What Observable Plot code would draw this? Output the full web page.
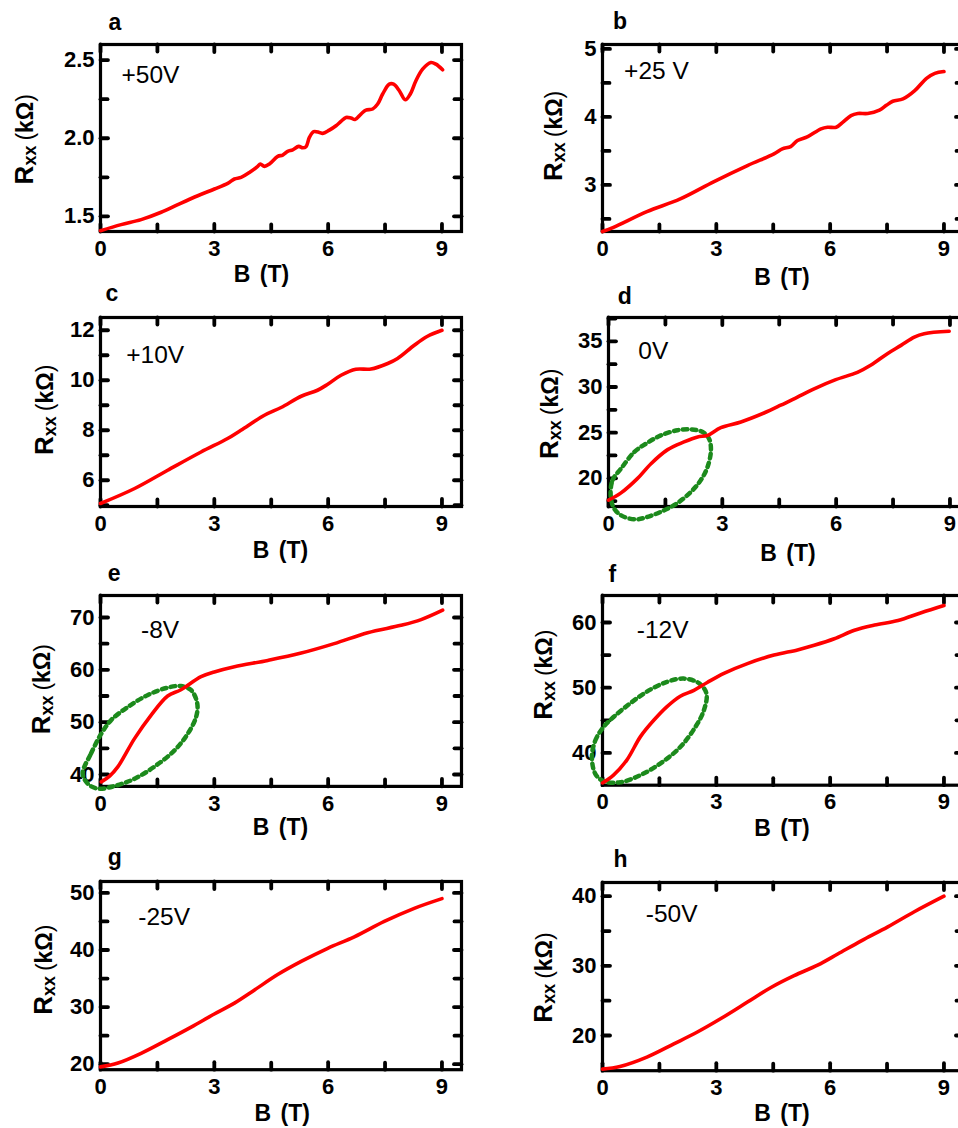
<!DOCTYPE html>
<html><head><meta charset="utf-8">
<script src="https://cdn.jsdelivr.net/npm/d3@7"></script>
<script src="https://cdn.jsdelivr.net/npm/@observablehq/plot@0.6"></script>
<style>
html,body{margin:0;padding:0;background:#fff;overflow:hidden;}
#fig{position:relative;width:958px;height:1128px;overflow:hidden;background:#fff;}
#fig svg{position:absolute;overflow:visible;}
</style></head><body><div id="fig"></div>
<script>
const FONT = "'Liberation Sans', Arial, Helvetica, sans-serif";

// ---------- data ----------
const panelLetters = ["a","b","c","d","e","f","g","h"];
const gateLabels = ["+50V","+25 V","+10V","0V","-8V","-12V","-25V","-50V"];
const xTicks = [0, 3, 6, 9];
const xMinor = [1.5, 4.5, 7.5];

const aB = [0,0.544,1.071,1.598,2.037,2.564,3.003,3.354,3.529,3.705,3.925,4.144,4.214,4.32,4.451,4.671,4.803,4.934,5.066,5.224,5.329,5.417,5.505,5.619,5.768,5.856,6.032,6.207,6.339,6.471,6.602,6.708,6.866,6.997,7.173,7.305,7.437,7.612,7.726,7.876,8.033,8.165,8.314,8.49,8.709,8.841,9.017];
const aR = [1.408,1.447,1.479,1.526,1.575,1.632,1.675,1.711,1.739,1.749,1.781,1.82,1.835,1.82,1.835,1.884,1.892,1.916,1.926,1.948,1.939,1.946,2.005,2.042,2.037,2.031,2.052,2.08,2.108,2.133,2.129,2.12,2.155,2.18,2.187,2.219,2.283,2.346,2.346,2.304,2.246,2.283,2.368,2.442,2.485,2.474,2.438];
const aYTicks = [1.5, 2.0, 2.5], aYMinor = [1.75, 2.25];

const bB = [0,0.29,1.17,2.05,2.94,3.82,4.52,4.74,4.96,5.14,5.41,5.76,5.93,6.16,6.33,6.55,6.73,6.99,7.3,7.48,7.65,7.92,8.23,8.54,8.76,9.0];
const bR = [2.314,2.377,2.608,2.794,3.049,3.284,3.456,3.53,3.564,3.652,3.71,3.824,3.848,3.848,3.92,4.02,4.05,4.05,4.1,4.17,4.23,4.265,4.387,4.568,4.64,4.667];
const bYTicks = [3, 4, 5], bYMinor = [2.5, 3.5, 4.5];

const cB = [0,0.9,1.77,2.65,3.35,3.7,4.32,4.76,5.29,5.72,5.99,6.34,6.73,7.13,7.57,7.83,8.27,8.62,9.0];
const cR = [5.07,5.67,6.4,7.13,7.67,8.0,8.6,8.91,9.36,9.6,9.84,10.2,10.44,10.45,10.67,10.87,11.4,11.76,12.0];
const cYTicks = [6, 8, 10, 12], cYMinor = [5, 7, 9, 11];

const dB = [0,0.33,0.76,1.12,1.56,1.99,2.35,2.61,2.96,3.49,4.1,4.54,4.98,5.42,5.99,6.56,6.92,7.35,7.71,8.06,8.32,8.98];
const dR = [17.6,18.4,19.96,21.6,23.14,23.98,24.53,24.7,25.55,26.17,27.15,28.0,28.9,29.8,30.8,31.6,32.4,33.65,34.56,35.47,35.84,36.1];
const dYTicks = [20, 25, 30, 35], dYMinor = [17.5, 22.5, 27.5, 32.5, 37.5];
const dEllB = [0.06,0.105,0.33,0.68,1.03,1.38,1.82,2.17,2.48,2.65,2.7,2.61,2.43,2.17,1.82,1.47,1.03,0.68,0.33,0.15];
const dEllR = [17.96,19.78,21.06,22.88,23.9,24.7,25.26,25.36,25.07,24.34,23.07,21.24,19.78,18.5,17.3,16.5,15.77,15.5,15.95,16.68];

const eB = [0.02,0.24,0.46,0.9,1.33,1.77,2.12,2.65,3.0,3.53,4.41,5.29,6.16,7.04,7.92,8.45,9.02];
const eR = [38.6,39.7,41.5,46.9,51.3,55.0,56.2,58.7,59.6,60.6,61.8,63.2,65.0,67.1,68.5,69.6,71.4];
const eYTicks = [40, 50, 60, 70], eYMinor = [45, 55, 65];
const eEllB = [-0.47,-0.25,0.02,0.28,0.72,1.25,1.77,2.12,2.39,2.55,2.52,2.3,1.95,1.42,0.9,0.37,-0.07,-0.33];
const eEllR = [40.2,44.0,47.8,50.4,52.9,55.2,56.6,56.9,56.1,53.6,51.0,47.8,44.6,41.5,39.2,37.8,37.3,38.2];

const fB = [0,0.29,0.64,1.0,1.35,1.7,2.05,2.41,2.76,3.2,3.82,4.52,5.14,5.58,6.11,6.64,7.17,7.79,8.4,9.0];
const fR = [35.4,36.6,38.9,42.5,45.0,47.1,48.7,49.6,50.8,52.2,53.7,55.0,55.8,56.5,57.5,58.8,59.6,60.3,61.5,62.6];
const fYTicks = [40, 50, 60], fYMinor = [35, 45, 55];
const fEllB = [-0.28,-0.19,0.03,0.29,0.73,1.17,1.7,2.14,2.54,2.74,2.67,2.45,2.05,1.53,1.0,0.47,0.03,-0.19];
const fEllR = [39.4,41.9,44.0,45.5,47.6,49.4,50.9,51.4,50.7,49.1,46.5,44.0,40.9,38.4,36.6,35.5,35.65,36.8];

const gB = [0,0.46,1.07,1.77,2.39,3.0,3.53,4.06,4.67,5.29,5.99,6.69,7.48,8.27,9.0];
const gR = [19.53,20.2,21.9,24.3,26.5,28.8,30.7,33.0,35.7,38.0,40.3,42.3,45.0,47.3,49.0];
const gYTicks = [20, 30, 40, 50], gYMinor = [25, 35, 45];

const hB = [0,0.46,1.17,1.88,2.5,3.11,3.82,4.44,5.05,5.67,6.2,6.82,7.52,8.23,9.0];
const hR = [15.17,15.55,16.9,18.8,20.5,22.4,24.8,26.9,28.6,30.1,31.7,33.6,35.6,37.8,40.0];
const hYTicks = [20, 30, 40], hYMinor = [25, 35];

// ---------- assemble ----------
const zipXY = (X, Y) => X.map((x, i) => ({B: x, R: Y[i]}));
const series = [
  {B: aB, R: aR, yt: aYTicks, ym: aYMinor, fmt: d3.format(".1f")},
  {B: bB, R: bR, yt: bYTicks, ym: bYMinor, fmt: d3.format("d")},
  {B: cB, R: cR, yt: cYTicks, ym: cYMinor, fmt: d3.format("d")},
  {B: dB, R: dR, yt: dYTicks, ym: dYMinor, fmt: d3.format("d"), eB: dEllB, eR: dEllR},
  {B: eB, R: eR, yt: eYTicks, ym: eYMinor, fmt: d3.format("d"), eB: eEllB, eR: eEllR},
  {B: fB, R: fR, yt: fYTicks, ym: fYMinor, fmt: d3.format("d"), eB: fEllB, eR: fEllR},
  {B: gB, R: gR, yt: gYTicks, ym: gYMinor, fmt: d3.format("d")},
  {B: hB, R: hR, yt: hYTicks, ym: hYMinor, fmt: d3.format("d")}
];

// layout (page pixel coordinates of frames, label offsets)
const layout = [
  {fl: 99.5,  ft: 43.8,  fh: 187,   yd: [1.403, 2.6],   let: [8, -14.8],   ann: [21, 38],     yl: [32.5, 139],   xl: [261, 281.5]},
  {fl: 601.7, ft: 43.8,  fh: 187,   yd: [2.315, 5.065], let: [10.5, -15.5], ann: [21.6, 34.5], yl: [561.3, 135.7], xl: [781.7, 284.5]},
  {fl: 99.5,  ft: 317.2, fh: 189,   yd: [4.95, 12.51],  let: [5, -16.5],   ann: [25.8, 45.5], yl: [52.3, 410],   xl: [280, 558.5]},
  {fl: 607.5, ft: 317.2, fh: 189,   yd: [16.91, 37.61], let: [9.3, -13.9], ann: [29.8, 41.1], yl: [557.8, 414],  xl: [787.5, 561.5]},
  {fl: 99.5,  ft: 595.3, fh: 190.9, yd: [37.73, 74.2],  let: [7.3, -14.6], ann: [40.5, 43],   yl: [49.7, 689.5], xl: [280, 835]},
  {fl: 601.7, ft: 595.3, fh: 189.7, yd: [35.05, 64.14], let: [6.1, -13.6], ann: [34.3, 43],   yl: [551.3, 675],  xl: [781.7, 836]},
  {fl: 99.5,  ft: 881.3, fh: 188.2, yd: [19.04, 52.0],  let: [7.3, -16.3], ann: [37.8, 43.7], yl: [51.3, 970],   xl: [281.7, 1121.5]},
  {fl: 601.7, ft: 882,   fh: 188.2, yd: [14.95, 41.97], let: [11.1, -15.3], ann: [43.3, 39.7], yl: [551.3, 977.5], xl: [781.7, 1121.5]}
];

const FW = 361, ML = 100, MR = 30, MT = 40, MB = 80;
const tickShape = {draw(ctx, l) { ctx.moveTo(0, 0); ctx.lineTo(0, -l); }};
const tickStyle = {stroke: "black", strokeWidth: 3.8, anchor: "start", shape: tickShape, strokeLinecap: "round"};

function tickMarks(xs, ys, len) {
  return [
    Plot.vector(xs, {...tickStyle, x: d => d, frameAnchor: "bottom", rotate: 0, length: len}),
    Plot.vector(xs, {...tickStyle, x: d => d, frameAnchor: "top", rotate: 180, length: len}),
    Plot.vector(ys, {...tickStyle, y: d => d, frameAnchor: "left", rotate: 90, length: len}),
    Plot.vector(ys, {...tickStyle, y: d => d, frameAnchor: "right", rotate: 270, length: len})
  ];
}

const fig = document.getElementById("fig");

series.forEach((s, i) => {
  const L = layout[i];
  const ymin = L.yd[0], ymax = L.yd[1];
  const yt = s.yt.filter(v => v >= ymin && v <= ymax);
  const ym = s.ym.filter(v => v >= ymin && v <= ymax);
  const marks = [
    Plot.frame({stroke: "black", strokeWidth: 3.2}),
    ...tickMarks(xTicks, yt, 7.5),
    ...tickMarks(xMinor, ym, 7),
    Plot.axisX({ticks: xTicks, anchor: "bottom", tickSize: 0, tickPadding: 8.5, fontSize: 22, fontWeight: "bold", label: null, tickFormat: d3.format("d")}),
    Plot.axisY({ticks: yt, anchor: "left", tickSize: 0, tickPadding: 6, fontSize: 22, fontWeight: "bold", label: null, tickFormat: s.fmt})
  ];
  if (s.eB) {
    marks.push(Plot.line(zipXY(s.eB, s.eR), {x: "B", y: "R", curve: "catmull-rom-closed", stroke: "#1c8a1c", strokeWidth: 4.5, strokeDasharray: "4.5,4.5"}));
  }
  marks.push(Plot.line(zipXY(s.B, s.R), {x: "B", y: "R", curve: "catmull-rom", stroke: "#ff0000", strokeWidth: 3.6}));
  marks.push(Plot.text([panelLetters[i]], {frameAnchor: "top-left", text: d => d, dx: L.let[0], dy: L.let[1], textAnchor: "start", lineAnchor: "bottom", fontSize: 23, fontWeight: "bold", fill: "black"}));
  marks.push(Plot.text([gateLabels[i]], {frameAnchor: "top-left", text: d => d, dx: L.ann[0], dy: L.ann[1], textAnchor: "start", lineAnchor: "bottom", fontSize: 24.5, fill: "black"}));

  const svgEl = Plot.plot({
    width: ML + FW + MR,
    height: MT + L.fh + MB,
    marginLeft: ML, marginRight: MR, marginTop: MT, marginBottom: MB,
    x: {domain: [0, 9.515]},
    y: {domain: L.yd},
    style: {background: "transparent", fontFamily: FONT, color: "black", overflow: "visible"},
    marks
  });
  const ox = L.fl - ML, oy = L.ft - MT;
  svgEl.style.left = ox + "px";
  svgEl.style.top = oy + "px";
  const svg = d3.select(svgEl);

  // x-axis title
  svg.append("text")
    .attr("x", L.xl[0] - ox).attr("y", L.xl[1] - oy)
    .attr("text-anchor", "middle")
    .attr("font-family", FONT).attr("font-size", 23).attr("font-weight", "bold")
    .style("word-spacing", "3px")
    .text("B (T)");

  // y-axis title with subscript
  const yl = svg.append("text")
    .attr("transform", `translate(${L.yl[0] - ox},${L.yl[1] - oy}) rotate(-90)`)
    .attr("text-anchor", "middle")
    .attr("font-family", FONT).attr("fill", "black");
  yl.append("tspan").attr("font-size", 26).attr("font-weight", "bold").text("R");
  yl.append("tspan").attr("font-size", 18).attr("font-weight", "bold").attr("dy", 3).text("xx");
  yl.append("tspan").attr("font-size", 23).attr("dy", -3).attr("dx", 5).text("(");
  yl.append("tspan").attr("font-size", 23).attr("font-weight", "bold").text("kΩ");
  yl.append("tspan").attr("font-size", 23).text(")");

  fig.appendChild(svgEl);
});
</script></body></html>
